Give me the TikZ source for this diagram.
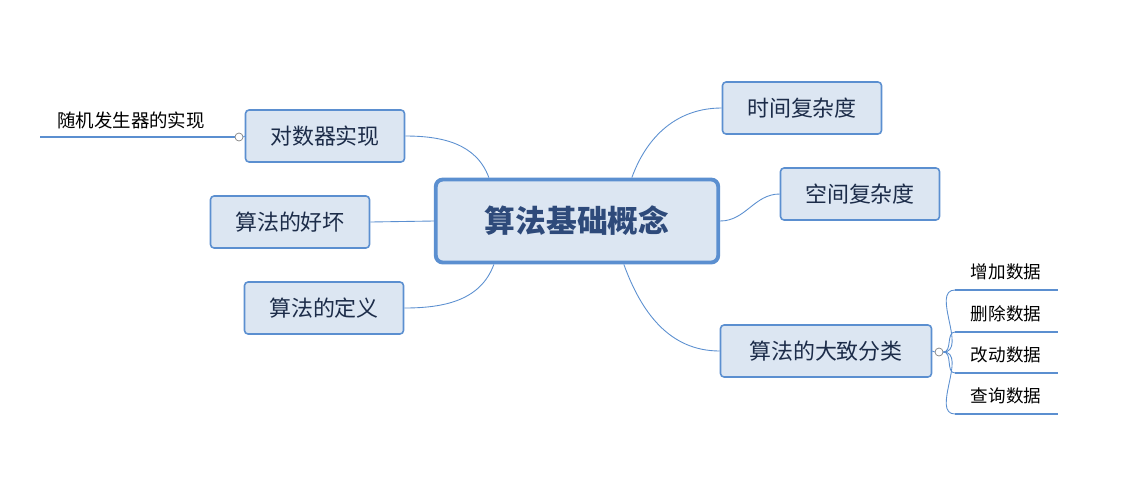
\documentclass[tikz,border=0pt]{standalone}
\usepackage{fontspec}
\setmainfont{Noto Sans CJK SC}
\usetikzlibrary{positioning}
\definecolor{boxfill}{HTML}{DCE6F2}
\definecolor{boxline}{HTML}{5B8FD0}
\definecolor{textblue}{HTML}{2E4A7A}
\tikzset{
  topic/.style={draw=boxline, fill=boxfill, rounded corners=2pt, line width=0.9pt, minimum width=3.18cm, minimum height=1.04cm, font=\fontsize{12.5}{14}\selectfont, text=textblue!60!black},
  root/.style={draw=boxline, fill=boxfill, rounded corners=4pt, line width=2.2pt, minimum width=5.65cm, minimum height=1.66cm, font=\fontsize{17.5}{20}\bfseries\selectfont, text=textblue},
  leaf/.style={font=\fontsize{10}{12}\selectfont, inner sep=1pt},
  link/.style={boxline, line width=0.5pt},
  under/.style={boxline, line width=1.2pt},
  knob/.style={circle, draw=gray, fill=white, inner sep=0pt, minimum size=0.16cm}
}
\begin{document}
\begin{tikzpicture}[x=0.02cm, y=-0.02cm]
\useasboundingbox (0,0) rectangle (1122,498);
\node[root] (core) at (577,221) {算法基础概念};
\node[topic] (time) at (802,108) {时间复杂度};
\node[topic, minimum width=3.18cm] (space) at (860,194) {空间复杂度};
\node[topic, minimum width=4.22cm] (kind) at (826,351) {算法的大致分类};
\node[topic] (check) at (325,136) {对数器实现};
\node[topic] (good) at (290,222) {算法的好坏};
\node[topic] (def) at (324,308) {算法的定义};

% left side
\draw[link] (core.north west)++(55,0) coordinate (c1) to[out=110, in=0] (check.east);
\draw[link] (core.west) -- (good.east);
\draw[link] (core.south west)++(60,0) coordinate (c2) to[out=-110, in=0] (def.east);
% right side
\draw[link] (core.north west)++(198,0) coordinate (c3) to[out=70, in=180] (time.west);
\draw[link] (core.east) to[out=0, in=180] (space.west);
\draw[link] (core.south west)++(190,0) coordinate (c4) to[out=-70, in=180] (kind.west);

% random generator
\node[leaf, font=\fontsize{10.5}{12}\selectfont] (rand) at (131,120) {随机发生器的实现};
\coordinate (r0) at (40,137);
\node[knob] (rk) at (239,137) {};
\draw[under] (r0) -- (rk.west);
\draw[link] (rk.east) -- (check.west);

% categories
\node[knob] (kk) at (939,352) {};
\draw[link] (kind.east) -- (kk.west);
\foreach \name/\txt/\y in {add/增加数据/272, del/删除数据/314, mod/改动数据/355, qry/查询数据/396}{
  \node[leaf] (\name) at (1006,\y) {\txt};
  \coordinate (\name a) at (955,\y+18);
  \coordinate (\name b) at (1058,\y+18);
  \draw[under] (\name a) -- (\name b);
  \draw[link] (kk.east) to[out=0, in=180] (\name a);
}
\end{tikzpicture}
\end{document}
